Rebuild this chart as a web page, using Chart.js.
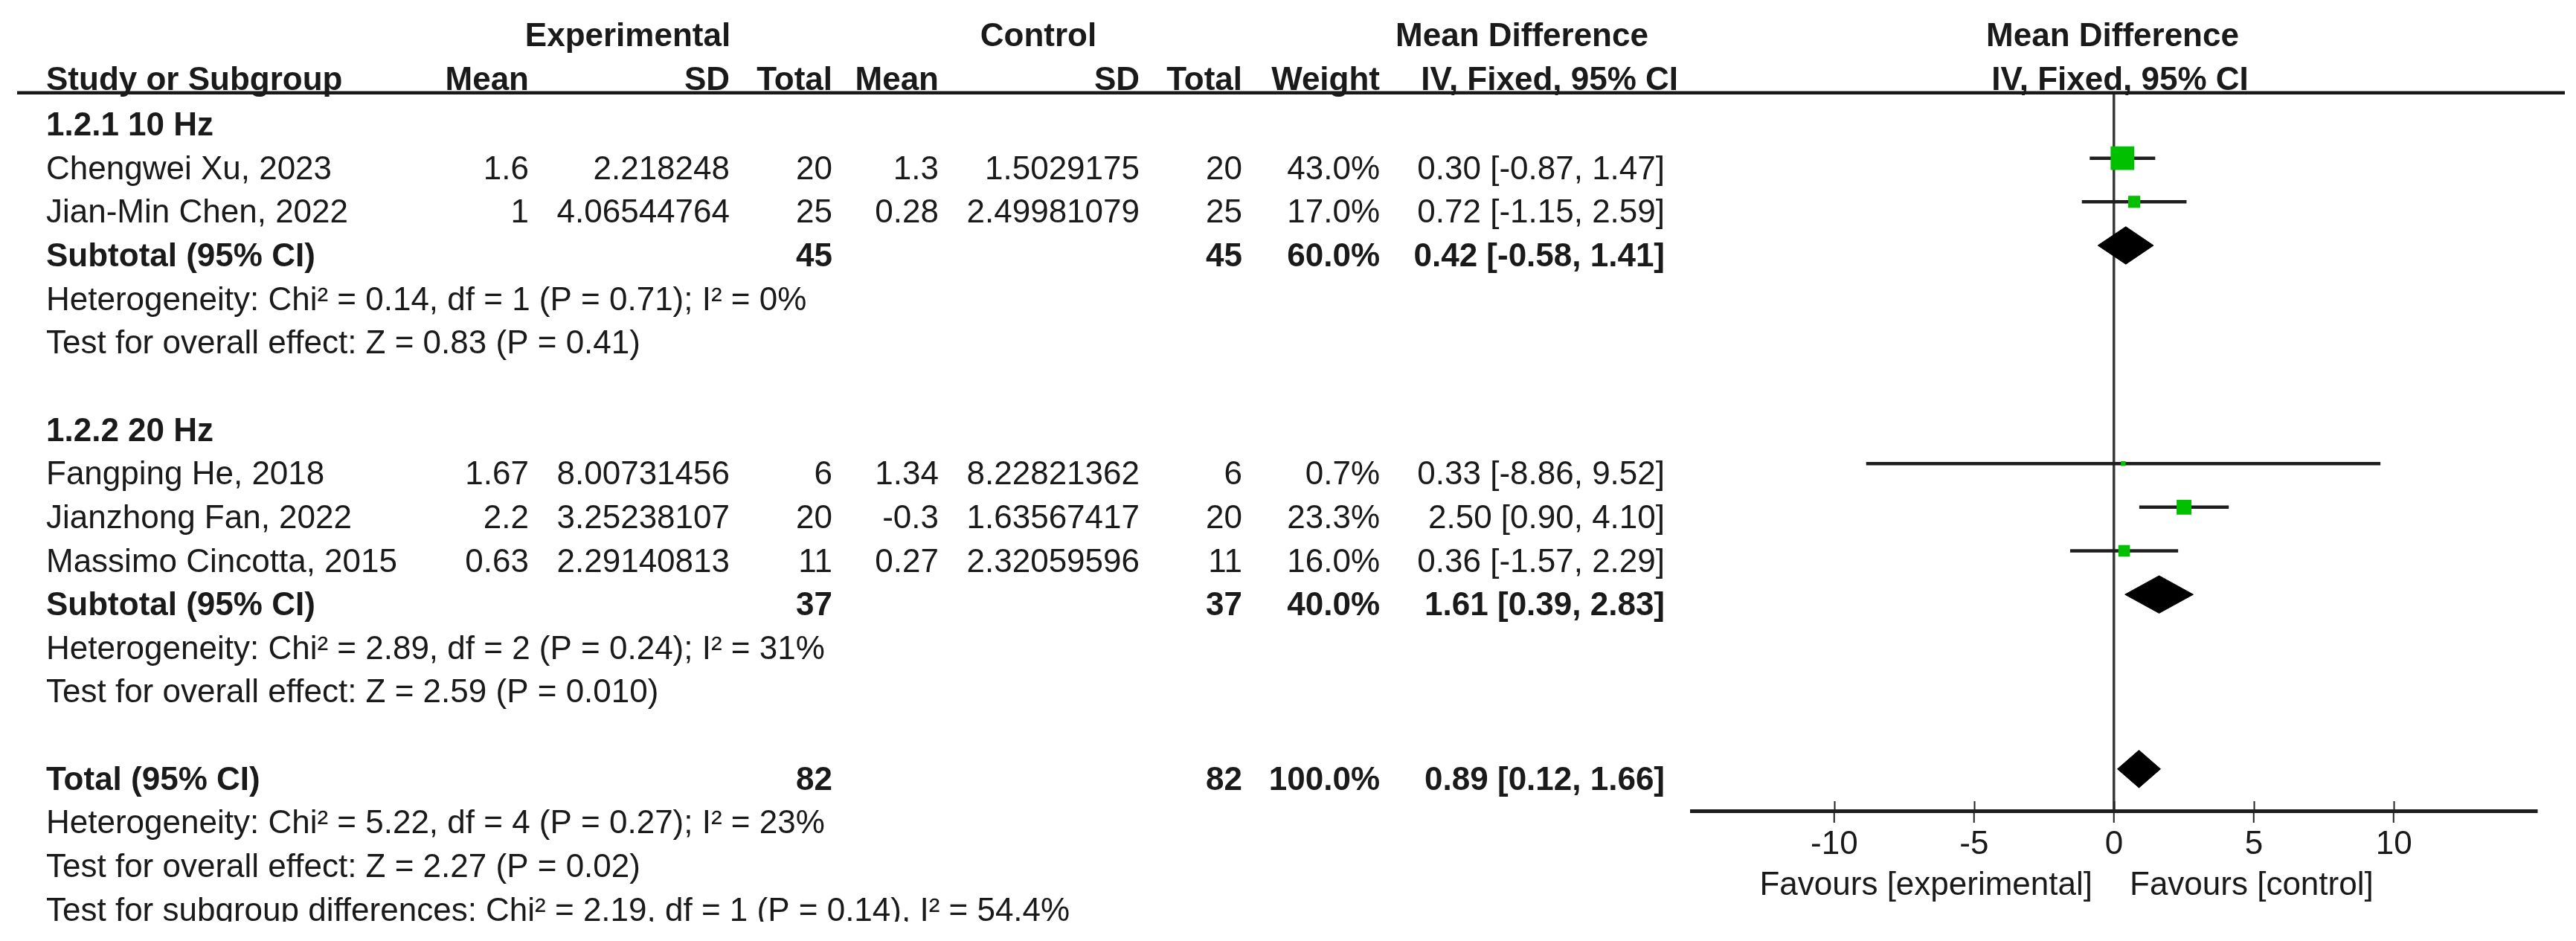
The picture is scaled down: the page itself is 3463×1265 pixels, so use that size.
<!DOCTYPE html>
<html>
<head>
<meta charset="utf-8">
<style>
html,body{margin:0;padding:0;background:#ffffff;overflow:hidden;}
canvas{display:block;}
</style>
<script src="https://cdn.jsdelivr.net/npm/chart.js@4.4.1/dist/chart.umd.min.js"></script>
</head>
<body>
<canvas id="forest" width="3463" height="1265" style="width:3463px;height:1265px"></canvas>
<script>
// ---------------- data ----------------
const subgroupNames = ["1.2.1 10 Hz", "1.2.2 20 Hz"];
const studyNames = ["Chengwei Xu, 2023", "Jian-Min Chen, 2022", "Fangping He, 2018", "Jianzhong Fan, 2022", "Massimo Cincotta, 2015"];
const studySubgroup = [0, 0, 1, 1, 1];
const expMean = [1.6, 1, 1.67, 2.2, 0.63];
const expSD = [2.218248, 4.06544764, 8.00731456, 3.25238107, 2.29140813];
const expTotal = [20, 25, 6, 20, 11];
const ctrlMean = [1.3, 0.28, 1.34, -0.3, 0.27];
const ctrlSD = [1.5029175, 2.49981079, 8.22821362, 1.63567417, 2.32059596];
const ctrlTotal = [20, 25, 6, 20, 11];
const studyWeight = [43.0, 17.0, 0.7, 23.3, 16.0];
const studyMD = [0.30, 0.72, 0.33, 2.50, 0.36];
const studyLow = [-0.87, -1.15, -8.86, 0.90, -1.57];
const studyHigh = [1.47, 2.59, 9.52, 4.10, 2.29];

const subExpTotal = [45, 37];
const subCtrlTotal = [45, 37];
const subWeight = [60.0, 40.0];
const subMD = [0.42, 1.61];
const subLow = [-0.58, 0.39];
const subHigh = [1.41, 2.83];
const subHeterogeneity = [
  "Heterogeneity: Chi\u00b2 = 0.14, df = 1 (P = 0.71); I\u00b2 = 0%",
  "Heterogeneity: Chi\u00b2 = 2.89, df = 2 (P = 0.24); I\u00b2 = 31%"
];
const subOverall = [
  "Test for overall effect: Z = 0.83 (P = 0.41)",
  "Test for overall effect: Z = 2.59 (P = 0.010)"
];

const totalExp = 82;
const totalCtrl = 82;
const totalWeight = 100.0;
const totalMD = 0.89;
const totalLow = 0.12;
const totalHigh = 1.66;
const totalNotes = [
  "Heterogeneity: Chi\u00b2 = 5.22, df = 4 (P = 0.27); I\u00b2 = 23%",
  "Test for overall effect: Z = 2.27 (P = 0.02)",
  "Test for subgroup differences: Chi\u00b2 = 2.19, df = 1 (P = 0.14), I\u00b2 = 54.4%"
];

const xTicks = [-10, -5, 0, 5, 10];
const xRange = [-15.1, 15.1];
const favoursLabels = ["Favours [experimental]", "Favours [control]"];
const headerGroups = ["Experimental", "Control", "Mean Difference", "Mean Difference"];
const headerCols = ["Study or Subgroup", "Mean", "SD", "Total", "Mean", "SD", "Total", "Weight", "IV, Fixed, 95% CI", "IV, Fixed, 95% CI"];

// ---------------- row layout (built from the data) ----------------
const rows = [];
subgroupNames.forEach((name, g) => {
  rows.push({kind: 'title', text: name});
  studyNames.forEach((s, k) => { if (studySubgroup[k] === g) rows.push({kind: 'study', k: k}); });
  rows.push({kind: 'subtotal', g: g});
  rows.push({kind: 'note', text: subHeterogeneity[g]});
  rows.push({kind: 'note', text: subOverall[g]});
  rows.push({kind: 'blank'});
});
rows.push({kind: 'total'});
totalNotes.forEach(t => rows.push({kind: 'note', text: t}));

const rowOfStudy = {};
const rowOfSub = {};
let rowOfTotal = 0;
rows.forEach((r, i) => {
  if (r.kind === 'study') rowOfStudy[r.k] = i;
  if (r.kind === 'subtotal') rowOfSub[r.g] = i;
  if (r.kind === 'total') rowOfTotal = i;
});

// ---------------- styles ----------------
const GREEN = '#00c000';
const INK = '#1a1a1a';
const FONT = '"Liberation Sans", Arial, Helvetica, sans-serif';
const DIAMOND_HALF = 0.43;

const datasets = [];
// CI lines
studyNames.forEach((s, k) => {
  datasets.push({
    type: 'line',
    data: [{x: studyLow[k], y: rowOfStudy[k]}, {x: studyHigh[k], y: rowOfStudy[k]}],
    borderColor: '#1e1e1e', borderWidth: 4.5, pointRadius: 0, fill: false, order: 3
  });
});
// study squares
datasets.push({
  type: 'scatter',
  data: studyNames.map((s, k) => ({x: studyMD[k], y: rowOfStudy[k]})),
  pointStyle: 'rect',
  pointRadius: studyWeight.map(w => (6 + 0.6 * w) / Math.SQRT2),
  backgroundColor: GREEN, borderColor: GREEN, borderWidth: 0, order: 0
});
// diamonds
function diamond(lo, mid, hi, r) {
  return {
    type: 'line',
    data: [{x: lo, y: r}, {x: mid, y: r - DIAMOND_HALF}, {x: hi, y: r}, {x: mid, y: r + DIAMOND_HALF}, {x: lo, y: r}],
    fill: 'shape', backgroundColor: '#000', borderColor: '#000', borderWidth: 1,
    pointRadius: 0, tension: 0, order: 1
  };
}
subgroupNames.forEach((n, g) => datasets.push(diamond(subLow[g], subMD[g], subHigh[g], rowOfSub[g])));
datasets.push(diamond(totalLow, totalMD, totalHigh, rowOfTotal));

// ---------------- table plugin ----------------
const COL = {name: 62, expMean: 711, expSD: 981, expTotal: 1119, ctrlMean: 1262, ctrlSD: 1532, ctrlTotal: 1670, weight: 1855, ci: 2238};
function ciText(m, lo, hi) { return m.toFixed(2) + ' [' + lo.toFixed(2) + ', ' + hi.toFixed(2) + ']'; }

const tablePlugin = {
  id: 'forestTable',
  afterDraw(chart) {
    const ctx = chart.ctx;
    const ys = chart.scales.y;
    const xs = chart.scales.x;
    const area = chart.chartArea;
    ctx.save();
    ctx.fillStyle = INK;
    ctx.textBaseline = 'alphabetic';
    const txt = (s, x, y, align, b) => {
      ctx.font = (b ? 'bold ' : '') + '44px ' + FONT;
      ctx.textAlign = align;
      ctx.fillText(String(s), x, y);
    };
    // header
    const h1 = area.top - 63, h2 = area.top - 4;
    const zeroPx = xs.getPixelForValue(0);
    txt(headerGroups[0], 844, h1, 'center', true);
    txt(headerGroups[1], 1396, h1, 'center', true);
    txt(headerGroups[2], 2046, h1, 'center', true);
    txt(headerGroups[3], zeroPx - 2, h1, 'center', true);
    txt(headerCols[0], COL.name, h2, 'left', true);
    txt(headerCols[1], COL.expMean, h2, 'right', true);
    txt(headerCols[2], COL.expSD, h2, 'right', true);
    txt(headerCols[3], COL.expTotal, h2, 'right', true);
    txt(headerCols[4], COL.ctrlMean, h2, 'right', true);
    txt(headerCols[5], COL.ctrlSD, h2, 'right', true);
    txt(headerCols[6], COL.ctrlTotal, h2, 'right', true);
    txt(headerCols[7], COL.weight, h2, 'right', true);
    txt(headerCols[8], 2256, h2, 'right', true);
    txt(headerCols[9], zeroPx + 8, h2, 'center', true);
    ctx.fillRect(23, area.top - 2.5, 3448 - 23, 4.5);

    // the reference picture is cut just below the last line's baseline
    ctx.save();
    ctx.beginPath();
    ctx.rect(0, 0, chart.width, area.bottom + 149);
    ctx.clip();
    rows.forEach((r, i) => {
      const y = ys.getPixelForValue(i) + 28;
      if (r.kind === 'title') txt(r.text, COL.name, y, 'left', true);
      else if (r.kind === 'note') txt(r.text, COL.name, y, 'left', false);
      else if (r.kind === 'study') {
        const k = r.k;
        txt(studyNames[k], COL.name, y, 'left', false);
        txt(expMean[k], COL.expMean, y, 'right', false);
        txt(expSD[k], COL.expSD, y, 'right', false);
        txt(expTotal[k], COL.expTotal, y, 'right', false);
        txt(ctrlMean[k], COL.ctrlMean, y, 'right', false);
        txt(ctrlSD[k], COL.ctrlSD, y, 'right', false);
        txt(ctrlTotal[k], COL.ctrlTotal, y, 'right', false);
        txt(studyWeight[k].toFixed(1) + '%', COL.weight, y, 'right', false);
        txt(ciText(studyMD[k], studyLow[k], studyHigh[k]), COL.ci, y, 'right', false);
      } else if (r.kind === 'subtotal') {
        const g = r.g;
        txt('Subtotal (95% CI)', COL.name, y, 'left', true);
        txt(subExpTotal[g], COL.expTotal, y, 'right', true);
        txt(subCtrlTotal[g], COL.ctrlTotal, y, 'right', true);
        txt(subWeight[g].toFixed(1) + '%', COL.weight, y, 'right', true);
        txt(ciText(subMD[g], subLow[g], subHigh[g]), COL.ci, y, 'right', true);
      } else if (r.kind === 'total') {
        txt('Total (95% CI)', COL.name, y, 'left', true);
        txt(totalExp, COL.expTotal, y, 'right', true);
        txt(totalCtrl, COL.ctrlTotal, y, 'right', true);
        txt(totalWeight.toFixed(1) + '%', COL.weight, y, 'right', true);
        txt(ciText(totalMD, totalLow, totalHigh), COL.ci, y, 'right', true);
      }
    });
    ctx.restore();

    // upper halves of the axis tick marks
    ctx.strokeStyle = '#222';
    ctx.lineWidth = 2;
    xs.ticks.forEach(t => {
      const px = Math.round(xs.getPixelForValue(t.value)) + 0.5;
      ctx.beginPath();
      ctx.moveTo(px, area.bottom - 13);
      ctx.lineTo(px, area.bottom);
      ctx.stroke();
    });
    // favours labels
    const fy = area.bottom + 113;
    txt(favoursLabels[0], zeroPx - 29, fy, 'right', false);
    txt(favoursLabels[1], zeroPx + 21, fy, 'left', false);
    ctx.restore();
  }
};

// ---------------- chart ----------------
const rowPx = 58.65, firstRowPx = 154, topPx = 125, bottomPx = 1090;
new Chart(document.getElementById('forest'), {
  type: 'scatter',
  data: {datasets: datasets},
  options: {
    responsive: false,
    animation: false,
    devicePixelRatio: 1,
    layout: {padding: {left: 2274, right: 53, top: topPx, bottom: 0}},
    plugins: {legend: {display: false}, tooltip: {enabled: false}, title: {display: false}},
    scales: {
      x: {
        type: 'linear',
        position: 'bottom',
        min: xRange[0], max: xRange[1],
        afterBuildTicks: (scale) => { scale.ticks = xTicks.map(v => ({value: v})); },
        afterFit: (scale) => { scale.height = 1265 - bottomPx; },
        ticks: {
          font: {family: FONT, size: 44},
          color: INK,
          padding: 3,
          maxRotation: 0,
          autoSkip: false,
          callback: (v) => String(v)
        },
        grid: {
          drawOnChartArea: true,
          color: (c) => (c.tick && c.tick.value === 0) ? '#3a3a3a' : 'rgba(0,0,0,0)',
          lineWidth: 3.5,
          tickColor: '#222',
          tickWidth: 2,
          tickLength: 16
        },
        border: {display: true, color: '#1e1e1e', width: 5}
      },
      y: {
        type: 'linear',
        display: false,
        reverse: true,
        min: (topPx - firstRowPx) / rowPx,
        max: (bottomPx - firstRowPx) / rowPx
      }
    }
  },
  plugins: [tablePlugin]
});
</script>
</body>
</html>
